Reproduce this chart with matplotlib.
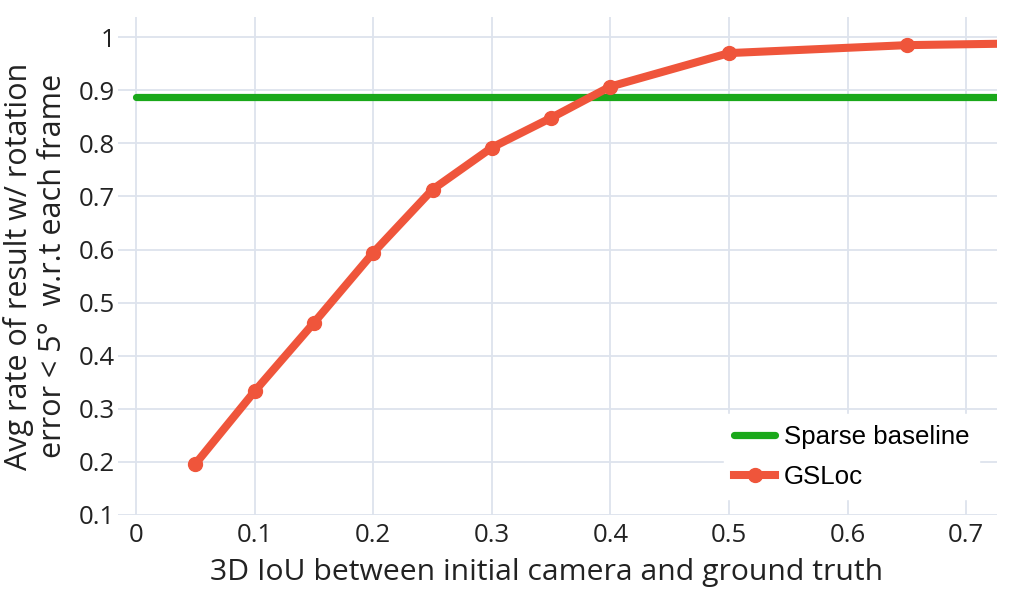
import matplotlib
matplotlib.use("Agg")
import matplotlib.pyplot as plt

# Data
iou_thresholds = [0.05, 0.1, 0.15, 0.2, 0.25, 0.3, 0.35, 0.4, 0.5, 0.65, 0.8]
gsloc_rate = [0.196, 0.333, 0.462, 0.594, 0.713, 0.792, 0.848, 0.907, 0.970, 0.985, 0.990]
baseline_x = [0.0, 0.8]
baseline_rate = [0.887, 0.887]
x_ticks = [0, 0.1, 0.2, 0.3, 0.4, 0.5, 0.6, 0.7]
x_tick_labels = ["0", "0.1", "0.2", "0.3", "0.4", "0.5", "0.6", "0.7"]
y_ticks = [0.1, 0.2, 0.3, 0.4, 0.5, 0.6, 0.7, 0.8, 0.9, 1.0]
y_tick_labels = ["0.1", "0.2", "0.3", "0.4", "0.5", "0.6", "0.7", "0.8", "0.9", "1"]

W, H = 1009, 592
fig = plt.figure(figsize=(W / 100, H / 100), dpi=100)
ax = fig.add_axes([118 / W, 1 - 515 / H, (997 - 118) / W, (515 - 17) / H])

grid_color = "#dde3ed"
ax.set_xlim(-0.0152, 0.726)
ax.set_ylim(0.1, 1.038)
ax.set_xticks(x_ticks)
ax.set_xticklabels(x_tick_labels)
ax.set_yticks(y_ticks)
ax.set_yticklabels(y_tick_labels)
ax.grid(True, color=grid_color, linewidth=1.3, zorder=0)
ax.set_axisbelow(True)
for s in ax.spines.values():
    s.set_visible(False)
ax.tick_params(length=0, labelsize=18.5, labelcolor="#222222")
ax.tick_params(axis="x", pad=6)
ax.tick_params(axis="y", pad=2)
for lab in ax.get_xticklabels() + ax.get_yticklabels():
    lab.set_fontfamily("Open Sans")

ax.plot(baseline_x, baseline_rate, color="#1aa81a", linewidth=5.2,
        solid_capstyle="round", label="Sparse baseline", zorder=3)
ax.plot(iou_thresholds, gsloc_rate, color="#ef553b", linewidth=5.8,
        marker="o", markersize=10, label="GSLoc", zorder=4)

ax.set_xlabel("3D IoU between initial camera and ground truth",
              fontsize=21.7, fontfamily="Open Sans", color="#222222", labelpad=8)
ax.xaxis.set_label_coords(0.487, -0.087)
ax.set_ylabel("Avg rate of result w/ rotation\nerror < 5°  w.r.t each frame",
              fontsize=22, fontfamily="Open Sans", color="#222222",
              linespacing=1.15, labelpad=8)

leg = ax.legend(loc="lower right", bbox_to_anchor=(0.9946, 0.006), frameon=True,
                prop={"family": "Liberation Sans", "size": 18.6},
                handlelength=1.6, handletextpad=0.31, labelspacing=0.62,
                borderpad=0.4, fancybox=False)
leg.get_frame().set_facecolor("white")
leg.get_frame().set_edgecolor("white")
leg.get_frame().set_alpha(1)

fig.savefig("out.png", dpi=100)
